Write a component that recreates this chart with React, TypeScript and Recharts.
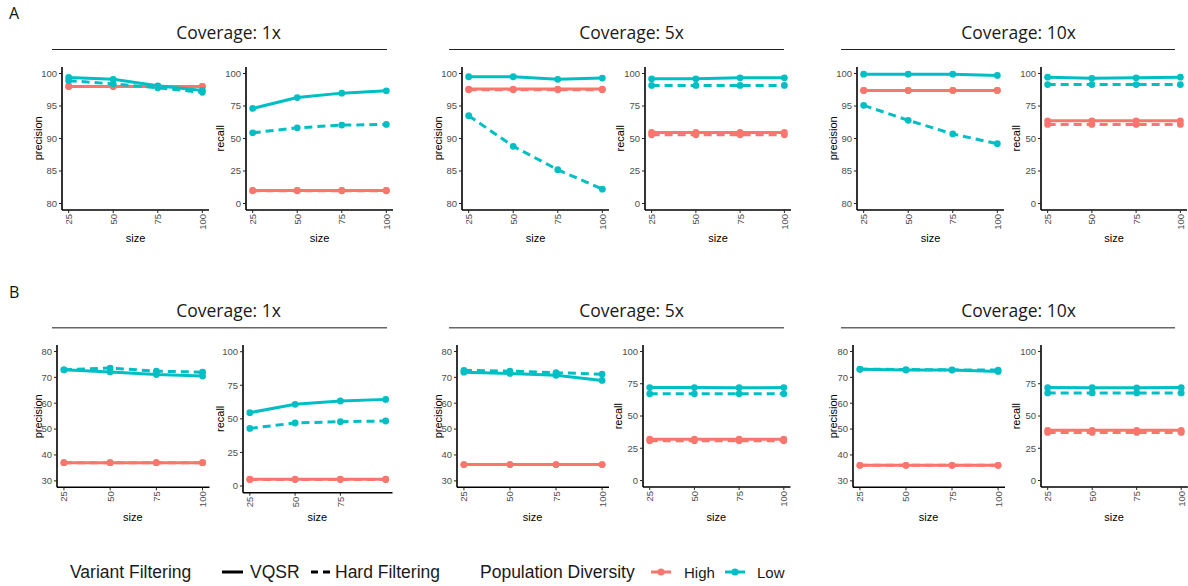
import React from 'react';
import { LineChart, Line, XAxis, YAxis } from 'recharts';

// ---------- data ----------
const sizes = [25, 50, 75, 100];
const sizeTicks = [25, 50, 75, 100];
const sizeTicksNo100 = [25, 50, 75];
const coverageLabels = ['Coverage: 1x', 'Coverage: 5x', 'Coverage: 10x'];
const precisionTicksA = [80, 85, 90, 95, 100];
const precisionTicksB = [30, 40, 50, 60, 70, 80];
const recallTicks = [0, 25, 50, 75, 100];

// Panel A (series: High/Low population diversity x VQSR/Hard filtering)
const a1Precision = { highVqsr: [98.0, 98.0, 98.0, 98.0], highHard: [98.0, 98.0, 98.0, 98.0], lowVqsr: [99.4, 99.1, 98.1, 97.4], lowHard: [98.9, 98.4, 97.8, 97.1] };
const a1Recall = { highVqsr: [10.0, 10.0, 10.0, 10.0], highHard: [9.8, 9.8, 9.8, 9.8], lowVqsr: [73.1, 81.5, 84.9, 86.7], lowHard: [54.4, 58.2, 60.3, 60.8] };
const a2Precision = { highVqsr: [97.6, 97.6, 97.6, 97.6], highHard: [97.5, 97.5, 97.5, 97.5], lowVqsr: [99.5, 99.5, 99.1, 99.3], lowHard: [93.5, 88.8, 85.2, 82.2] };
const a2Recall = { highVqsr: [54.6, 54.6, 54.6, 54.6], highHard: [52.8, 52.8, 52.8, 52.8], lowVqsr: [95.9, 95.9, 96.7, 96.7], lowHard: [90.8, 90.8, 90.8, 90.8] };
const a3Precision = { highVqsr: [97.4, 97.4, 97.4, 97.4], highHard: [97.4, 97.4, 97.4, 97.4], lowVqsr: [99.9, 99.9, 99.9, 99.7], lowHard: [95.1, 92.8, 90.7, 89.2] };
const a3Recall = { highVqsr: [63.6, 63.6, 63.6, 63.6], highHard: [60.8, 60.8, 60.8, 60.8], lowVqsr: [97.2, 96.3, 96.7, 97.2], lowHard: [91.5, 91.5, 91.5, 91.5] };

// Panel B
const b1Precision = { highVqsr: [37.0, 37.0, 37.0, 37.0], highHard: [37.0, 37.0, 37.0, 37.0], lowVqsr: [72.9, 72.1, 71.1, 70.5], lowHard: [72.9, 73.6, 72.4, 72.0] };
const b1Recall = { highVqsr: [5.0, 5.0, 5.0, 5.0], highHard: [4.8, 4.8, 4.8, 4.8], lowVqsr: [54.6, 60.8, 63.3, 64.5], lowHard: [42.9, 46.9, 47.9, 48.4] };
const b2Precision = { highVqsr: [36.3, 36.3, 36.3, 36.3], highHard: [36.3, 36.3, 36.3, 36.3], lowVqsr: [72.0, 71.5, 70.8, 68.8], lowHard: [72.7, 72.4, 71.8, 71.2] };
const b2Recall = { highVqsr: [32.0, 32.0, 32.0, 32.0], highHard: [30.8, 30.8, 30.8, 30.8], lowVqsr: [72.0, 72.0, 71.9, 72.0], lowHard: [67.2, 67.2, 67.2, 67.2] };
const b3Precision = { highVqsr: [36.0, 36.0, 36.0, 36.0], highHard: [36.0, 36.0, 36.0, 36.0], lowVqsr: [73.1, 72.8, 72.8, 72.3], lowHard: [73.2, 73.0, 72.9, 72.8] };
const b3Recall = { highVqsr: [38.9, 38.9, 38.9, 38.9], highHard: [37.3, 37.3, 37.3, 37.3], lowVqsr: [72.0, 71.9, 71.8, 72.0], lowHard: [67.9, 67.9, 67.9, 67.9] };

// ---------- styling ----------
const RED = '#F8766D';
const TEAL = '#00BFC4';
const TICK_FONT = '"Liberation Sans", Arial, sans-serif';
const TITLE_FONT = '"Open Sans", "Noto Sans", sans-serif';
const X_DOMAIN: [number, number] = [21.25, 103.75];
const PREC_A: [number, number] = [79, 101];
const PREC_B: [number, number] = [27.5, 82.5];
const RECALL: [number, number] = [-5, 105];

type Series = { highVqsr: number[]; highHard: number[]; lowVqsr: number[]; lowHard: number[] };

type PanelDef = {
  series: Series;
  left: number; right: number; top: number; bottom: number;
  yDomain: [number, number]; yTicks: number[]; xTicks: number[];
  yTitle: string; yTitleX: number; xTitleY: number;
};

const panels: PanelDef[] = [
  { series: a1Precision, left: 62, right: 209, top: 66.8, bottom: 209.8, yDomain: PREC_A, yTicks: precisionTicksA, xTicks: sizeTicks, yTitle: 'precision', yTitleX: 38, xTitleY: 238 },
  { series: a1Recall, left: 246, right: 393, top: 66.8, bottom: 209.8, yDomain: RECALL, yTicks: recallTicks, xTicks: sizeTicks, yTitle: 'recall', yTitleX: 220, xTitleY: 238 },
  { series: a2Precision, left: 462, right: 609, top: 66.8, bottom: 209.8, yDomain: PREC_A, yTicks: precisionTicksA, xTicks: sizeTicks, yTitle: 'precision', yTitleX: 438, xTitleY: 238 },
  { series: a2Recall, left: 645, right: 791, top: 66.8, bottom: 209.8, yDomain: RECALL, yTicks: recallTicks, xTicks: sizeTicks, yTitle: 'recall', yTitleX: 620, xTitleY: 238 },
  { series: a3Precision, left: 857, right: 1004, top: 66.8, bottom: 209.8, yDomain: PREC_A, yTicks: precisionTicksA, xTicks: sizeTicks, yTitle: 'precision', yTitleX: 833, xTitleY: 238 },
  { series: a3Recall, left: 1041, right: 1187, top: 66.8, bottom: 209.8, yDomain: RECALL, yTicks: recallTicks, xTicks: sizeTicks, yTitle: 'recall', yTitleX: 1016, xTitleY: 238 },
  { series: b1Precision, left: 56.5, right: 209, top: 345.2, bottom: 487.5, yDomain: PREC_B, yTicks: precisionTicksB, xTicks: sizeTicks, yTitle: 'precision', yTitleX: 38, xTitleY: 517 },
  { series: b1Recall, left: 242.5, right: 392, top: 345, bottom: 492.7, yDomain: RECALL, yTicks: recallTicks, xTicks: sizeTicksNo100, yTitle: 'recall', yTitleX: 220, xTitleY: 517 },
  { series: b2Precision, left: 456.5, right: 608.5, top: 345.2, bottom: 487.5, yDomain: PREC_B, yTicks: precisionTicksB, xTicks: sizeTicks, yTitle: 'precision', yTitleX: 438, xTitleY: 517 },
  { series: b2Recall, left: 642.5, right: 790, top: 345.2, bottom: 487.2, yDomain: RECALL, yTicks: recallTicks, xTicks: sizeTicks, yTitle: 'recall', yTitleX: 618, xTitleY: 517 },
  { series: b3Precision, left: 852.5, right: 1004.5, top: 345.2, bottom: 487.5, yDomain: PREC_B, yTicks: precisionTicksB, xTicks: sizeTicks, yTitle: 'precision', yTitleX: 833, xTitleY: 517 },
  { series: b3Recall, left: 1040.6, right: 1187.5, top: 345.2, bottom: 487.2, yDomain: RECALL, yTicks: recallTicks, xTicks: sizeTicks, yTitle: 'recall', yTitleX: 1016, xTitleY: 517 },
];

const strips = [
  { label: coverageLabels[0], cx: 228.5, x1: 52, x2: 387, y: 49.5, ty: 38.5, color: '#222', w: 1 },
  { label: coverageLabels[1], cx: 631.5, x1: 449, x2: 784, y: 49.5, ty: 38.5, color: '#222', w: 1 },
  { label: coverageLabels[2], cx: 1018.5, x1: 841, x2: 1175, y: 49.5, ty: 38.5, color: '#222', w: 1 },
  { label: coverageLabels[0], cx: 228.5, x1: 52, x2: 387, y: 327.8, ty: 317, color: '#666', w: 1.5 },
  { label: coverageLabels[1], cx: 631.5, x1: 449, x2: 784, y: 327.8, ty: 317, color: '#666', w: 1.5 },
  { label: coverageLabels[2], cx: 1018.5, x1: 841, x2: 1175, y: 327.8, ty: 317, color: '#666', w: 1.5 },
];

const LW = 40;
const TM = 6;
const RM = 4;
const BH = 32;

const XTick = (props: any) => {
  const { x, y, payload } = props;
  const yy = y - 1;
  return (
    <text
      x={x}
      y={yy}
      transform={`rotate(-90 ${x} ${yy})`}
      textAnchor="end"
      dominantBaseline="central"
      fontSize={9.5}
      fontFamily={TICK_FONT}
      fill="#4d4d4d"
    >
      {payload.value}
    </text>
  );
};

const dotStyle = (c: string) => ({ r: 3.4, fill: c, stroke: 'none', strokeWidth: 0, strokeDasharray: '' });

function Panel({ p }: { p: PanelDef }) {
  const plotW = p.right - p.left;
  const plotH = p.bottom - p.top;
  const data = sizes.map((s, i) => ({
    size: s,
    highVqsr: p.series.highVqsr[i],
    highHard: p.series.highHard[i],
    lowVqsr: p.series.lowVqsr[i],
    lowHard: p.series.lowHard[i],
  }));
  return (
    <div style={{ position: 'absolute', left: p.left - LW, top: p.top - TM }}>
      <LineChart
        width={LW + plotW + RM}
        height={TM + plotH + BH}
        data={data}
        margin={{ top: TM, right: RM, left: 0, bottom: 0 }}
      >
        <XAxis
          type="number"
          dataKey="size"
          domain={X_DOMAIN}
          ticks={p.xTicks}
          interval={0}
          height={BH}
          tickSize={3}
          tick={(props: any) => <XTick {...props} />}
          axisLine={{ stroke: '#000', strokeWidth: 1.6 }}
          tickLine={{ stroke: '#222', strokeWidth: 1 }}
        />
        <YAxis
          type="number"
          domain={p.yDomain}
          ticks={p.yTicks}
          interval={0}
          width={LW}
          tickSize={3}
          tick={{ fill: '#4d4d4d', fontSize: 9.5, fontFamily: TICK_FONT }}
          axisLine={{ stroke: '#000', strokeWidth: 1.6 }}
          tickLine={{ stroke: '#222', strokeWidth: 1 }}
        />
        <Line dataKey="highHard" stroke={RED} strokeWidth={3} strokeDasharray="8 5" dot={dotStyle(RED)} activeDot={false} isAnimationActive={false} />
        <Line dataKey="highVqsr" stroke={RED} strokeWidth={3} dot={dotStyle(RED)} activeDot={false} isAnimationActive={false} />
        <Line dataKey="lowHard" stroke={TEAL} strokeWidth={3} strokeDasharray="8 5" dot={dotStyle(TEAL)} activeDot={false} isAnimationActive={false} />
        <Line dataKey="lowVqsr" stroke={TEAL} strokeWidth={3} dot={dotStyle(TEAL)} activeDot={false} isAnimationActive={false} />
      </LineChart>
    </div>
  );
}

export default function App() {
  return (
    <div style={{ position: 'absolute', left: 0, top: 0, width: 1188, height: 586, background: '#fff', overflow: 'hidden' }}>
      {panels.map((p, i) => (
        <Panel key={i} p={p} />
      ))}
      <svg width={1188} height={586} style={{ position: 'absolute', left: 0, top: 0, pointerEvents: 'none' }}>
        <text x={9} y={18.5} fontSize={16} fontFamily={TITLE_FONT} fill="#111">A</text>
        <text x={9} y={298} fontSize={16} fontFamily={TITLE_FONT} fill="#111">B</text>
        {strips.map((s, i) => (
          <g key={i}>
            <text x={s.cx} y={s.ty} textAnchor="middle" fontSize={17.5} fontFamily={TITLE_FONT} fill="#1a1a1a">{s.label}</text>
            <line x1={s.x1} x2={s.x2} y1={s.y} y2={s.y} stroke={s.color} strokeWidth={s.w} />
          </g>
        ))}
        {panels.map((p, i) => {
          const cy = (p.top + p.bottom) / 2;
          const cx = (p.left + p.right) / 2;
          return (
            <g key={i}>
              <text
                x={p.yTitleX}
                y={cy}
                transform={`rotate(-90 ${p.yTitleX} ${cy})`}
                textAnchor="middle"
                dominantBaseline="central"
                fontSize={11}
                fontFamily={TICK_FONT}
                fill="#000"
              >
                {p.yTitle}
              </text>
              <text x={cx} y={p.xTitleY} textAnchor="middle" dominantBaseline="central" fontSize={11} fontFamily={TICK_FONT} fill="#000">
                size
              </text>
            </g>
          );
        })}
        {/* legend */}
        <g fontFamily={TICK_FONT} fill="#1a1a1a">
          <text x={70} y={572} dominantBaseline="central" fontSize={17.5}>Variant Filtering</text>
          <line x1={222} x2={243} y1={572} y2={572} stroke="#000" strokeWidth={3} />
          <text x={250} y={572} dominantBaseline="central" fontSize={17.5}>VQSR</text>
          <line x1={311} x2={333} y1={572} y2={572} stroke="#000" strokeWidth={3} strokeDasharray="7 5" />
          <text x={335} y={572} dominantBaseline="central" fontSize={17.5}>Hard Filtering</text>
          <text x={480} y={572} dominantBaseline="central" fontSize={17.5}>Population Diversity</text>
          <line x1={651} x2={671} y1={572} y2={572} stroke={RED} strokeWidth={3} />
          <circle cx={661} cy={572} r={3.6} fill={RED} />
          <text x={684} y={572} dominantBaseline="central" fontSize={15}>High</text>
          <line x1={725} x2={745} y1={572} y2={572} stroke={TEAL} strokeWidth={3} />
          <circle cx={735} cy={572} r={3.6} fill={TEAL} />
          <text x={757} y={572} dominantBaseline="central" fontSize={15}>Low</text>
        </g>
      </svg>
    </div>
  );
}
